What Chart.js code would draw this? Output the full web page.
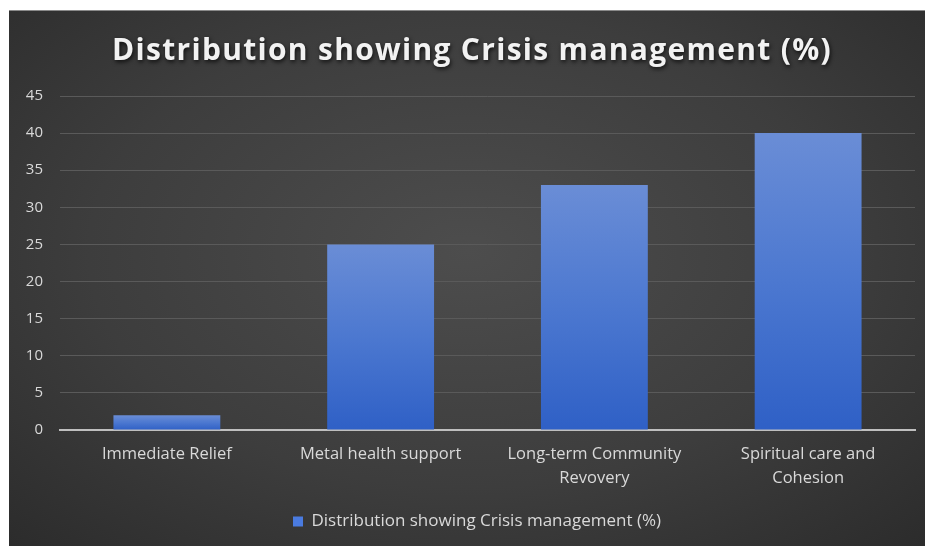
<!DOCTYPE html>
<html>
<head>
<meta charset="utf-8">
<script src="https://cdn.jsdelivr.net/npm/chart.js@4"></script>
<style>
  html, body { margin: 0; padding: 0; background: #ffffff; }
  body { width: 925px; height: 546px; position: relative; overflow: hidden; }
  #frame {
    position: absolute; left: 9px; top: 10px; width: 916px; height: 536px;
    background: radial-gradient(ellipse 75% 80% at 50% 45%, #4d4d4d 0%, #3d3d3d 55%, #2a2a2a 100%);
    border-top: 1px solid #8a8a8a; box-sizing: border-box;
  }
  #wrap { position: absolute; left: 9px; top: 10px; width: 916px; height: 536px; }
</style>
</head>
<body>
<div id="frame"></div>
<div id="wrap"><canvas id="c" width="916" height="536"></canvas></div>
<script>
const categories = [
  "Immediate Relief",
  "Metal health support",
  ["Long-term Community", "Revovery"],
  ["Spiritual care and", "Cohesion"]
];
const values = [2, 25, 33, 40];
const seriesName = "Distribution showing Crisis management (%)";
const titleText = "Distribution showing Crisis management (%)";
const yTicks = [0, 5, 10, 15, 20, 25, 30, 35, 40, 45];

const textColor = "#d9d9d9";
const fontFamily = "'Open Sans', 'Liberation Sans', sans-serif";

function barFill(ctx) {
  const chart = ctx.chart;
  if (!chart.chartArea || ctx.type !== 'data') return '#4472c4';
  const y = chart.scales.y;
  const v = ctx.raw;
  const top = y.getPixelForValue(v);
  const bot = y.getPixelForValue(0);
  if (!isFinite(top) || !isFinite(bot) || Math.abs(bot - top) < 1) return '#3d6fd6';
  const g = chart.ctx.createLinearGradient(0, top, 0, bot);
  g.addColorStop(0, '#6a8dd6');
  g.addColorStop(0.5, '#4c78d0');
  g.addColorStop(1, '#2f60c6');
  return g;
}

// Title: letter spacing + soft shadow; legend: small horizontal offset
const boxStyle = {
  id: 'boxStyle',
  beforeDraw(chart) {
    const tb = chart.titleBlock;
    if (tb && !tb._styled) {
      const orig = tb.draw.bind(tb);
      tb.draw = function () {
        const c = chart.ctx;
        c.save();
        c.translate(10, 0);
        c.letterSpacing = '1.3px';
        c.shadowColor = 'rgba(0,0,0,0.75)';
        c.shadowBlur = 4;
        c.shadowOffsetX = 1;
        c.shadowOffsetY = 2;
        orig();
        c.restore();
      };
      tb._styled = true;
    }
    const lg = chart.legend;
    if (lg && !lg._styled) {
      const origL = lg.draw.bind(lg);
      lg.draw = function () {
        const c = chart.ctx;
        c.save();
        c.translate(15, 0);
        origL();
        c.restore();
      };
      lg._styled = true;
    }
  }
};

new Chart(document.getElementById('c'), {
  type: 'bar',
  data: {
    labels: categories,
    datasets: [{
      label: seriesName,
      data: values,
      backgroundColor: barFill,
      borderWidth: 0,
      categoryPercentage: 0.5,
      barPercentage: 1.0
    }]
  },
  plugins: [boxStyle],
  options: {
    responsive: false,
    animation: false,
    layout: { padding: { left: 0, right: 10, top: 0, bottom: 6 } },
    plugins: {
      title: {
        display: true,
        text: titleText,
        color: '#f2f2f2',
        font: { family: fontFamily, size: 30, weight: 'bold' },
        padding: { top: 23, bottom: 27 }
      },
      legend: {
        display: true,
        position: 'bottom',
        labels: {
          color: textColor,
          font: { family: fontFamily, size: 17 },
          boxWidth: 10,
          boxHeight: 10,
          padding: 11,
          generateLabels: (chart) => [{
            text: seriesName,
            fillStyle: '#4a7be0',
            strokeStyle: '#4a7be0',
            lineWidth: 0,
            fontColor: textColor,
            datasetIndex: 0
          }]
        }
      },
      tooltip: { enabled: false }
    },
    scales: {
      x: {
        grid: { display: false, drawTicks: false },
        border: { display: true, color: '#bfbfbf', width: 2 },
        ticks: {
          color: textColor,
          font: { family: fontFamily, size: 16.5, lineHeight: 1.45 },
          padding: 12,
          maxRotation: 0,
          autoSkip: false
        },
        afterFit: (s) => { s.height = 72; }
      },
      y: {
        min: 0, max: 45,
        afterBuildTicks: (s) => { s.ticks = yTicks.map(v => ({ value: v })); },
        grid: { color: '#5a5a5a', lineWidth: 1, drawTicks: false },
        border: { display: false },
        ticks: {
          color: textColor,
          font: { family: fontFamily, size: 15 },
          padding: 17,
          stepSize: 5
        },
        afterFit: (s) => { s.width = 51; }
      }
    }
  }
});
</script>
</body>
</html>
